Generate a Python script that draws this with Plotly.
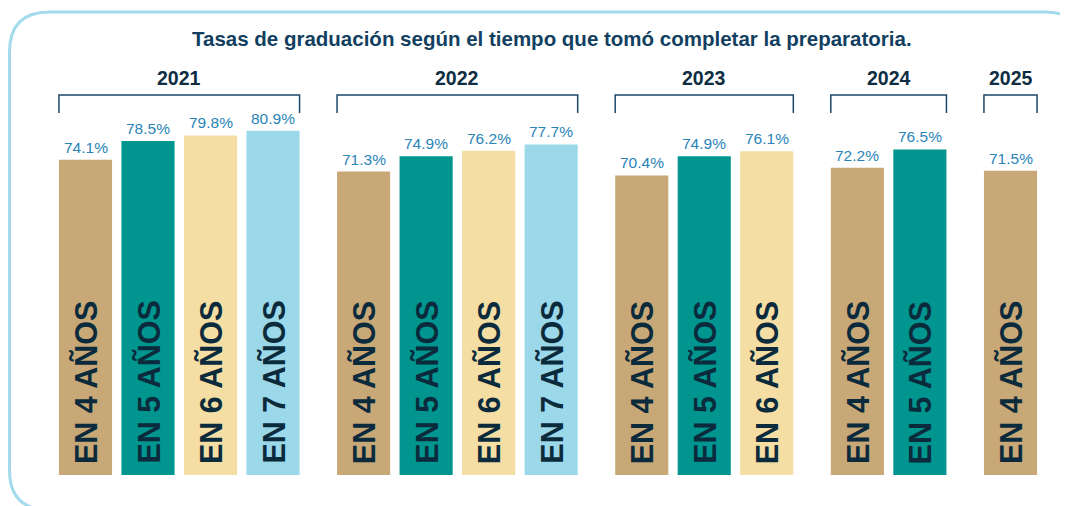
import plotly.graph_objects as go

# data
years = ["2021", "2022", "2023", "2024", "2025"]
rates = [
    [74.1, 78.5, 79.8, 80.9],
    [71.3, 74.9, 76.2, 77.7],
    [70.4, 74.9, 76.1],
    [72.2, 76.5],
    [71.5],
]
durations = ["EN 4 AÑOS", "EN 5 AÑOS", "EN 6 AÑOS", "EN 7 AÑOS"]
colors = ["#c8a876", "#00958f", "#f4dea4", "#9bd8e9"]
title = "Tasas de graduación según el tiempo que tomó completar la preparatoria."

# the page body has an 8px margin, so the figure is drawn 8px smaller
OFF = 8
W, H = 1068 - OFF, 506 - OFF
MB = 31
PLOT_H = H - MB
GROUP_GAP = 0.45
BAR_W = 0.85


def px_(p):
    # page pixel column -> paper x
    return (p - OFF) / W


def py(p):
    # page pixel row -> paper y
    return (PLOT_H - (p - OFF)) / PLOT_H


# positions of each bar: slot index plus a gap between year groups
positions = []
k = 0
for g, vals in enumerate(rates):
    row = []
    for i in range(len(vals)):
        row.append(k + GROUP_GAP * g)
        k += 1
    positions.append(row)

fig = go.Figure()

for d, name in enumerate(durations):
    xs, ys = [], []
    for g, vals in enumerate(rates):
        if d < len(vals):
            xs.append(positions[g][d])
            ys.append(vals[d])
    fig.add_trace(go.Bar(
        x=xs, y=ys, name=name, width=BAR_W,
        marker=dict(color=colors[d], line=dict(width=0)),
        hoverinfo="y",
    ))

annotations = []
shapes = []

# panel with rounded corners
x0, y0, x1, y1, r = 9.5, 12, 1085, 510, 40
def P(a, b):
    return f"{px_(a):.5f},{py(b):.5f}"
path = (f"M {P(x0 + r, y0)} L {P(x1 - r, y0)} Q {P(x1, y0)} {P(x1, y0 + r)} "
        f"L {P(x1, y1 - r)} Q {P(x1, y1)} {P(x1 - r, y1)} L {P(x0 + r, y1)} "
        f"Q {P(x0, y1)} {P(x0, y1 - r)} L {P(x0, y0 + r)} Q {P(x0, y0)} {P(x0 + r, y0)} Z")
shapes.append(dict(type="path", xref="paper", yref="paper", path=path,
                   line=dict(color="#a3dbeb", width=3), fillcolor="white", layer="below"))

for g, vals in enumerate(rates):
    left = positions[g][0] - BAR_W / 2
    right = positions[g][-1] + BAR_W / 2
    mid = (positions[g][0] + positions[g][-1]) / 2
    # bracket over the year group
    shapes.append(dict(type="path", xref="x", yref="paper",
                       path=f"M {left},{py(113)} L {left},{py(95)} L {right},{py(95)} L {right},{py(113)}",
                       line=dict(color="#1d4768", width=1.5)))
    annotations.append(dict(x=mid, y=py(78), xref="x", yref="paper", text=f"<b>{years[g]}</b>",
                            showarrow=False, xanchor="center", yanchor="middle",
                            font=dict(size=19.5, color="#0e2d42")))
    for i, v in enumerate(vals):
        annotations.append(dict(x=positions[g][i], y=v, xref="x", yref="y", text=f"{v:.1f}%",
                                showarrow=False, yanchor="bottom", yshift=2,
                                font=dict(size=15.5, color="#2a84b8")))
        annotations.append(dict(x=positions[g][i], y=0, xref="x", yref="y", text=f"<b>{durations[i]}</b>",
                                showarrow=False, yanchor="bottom", yshift=9, textangle=-90,
                                font=dict(size=30.5, color="#0b2b3d")))

annotations.append(dict(x=px_(552), y=py(39), xref="paper", yref="paper", text=f"<b>{title}</b>",
                        showarrow=False, xanchor="center", yanchor="middle",
                        font=dict(size=20.5, color="#123f5f")))

fig.update_layout(
    width=W, height=H,
    margin=dict(l=0, r=0, t=0, b=MB),
    paper_bgcolor="white", plot_bgcolor="rgba(0,0,0,0)",
    showlegend=False, barmode="overlay",
    font=dict(family="Liberation Sans, Arial, sans-serif"),
    xaxis=dict(range=[(OFF - 85.5) / 62.5, (1068 - 85.5) / 62.5], visible=False, fixedrange=True),
    yaxis=dict(range=[0, PLOT_H / 4.255], visible=False, fixedrange=True),
    shapes=shapes, annotations=annotations,
)

fig.write_html("out.html")
